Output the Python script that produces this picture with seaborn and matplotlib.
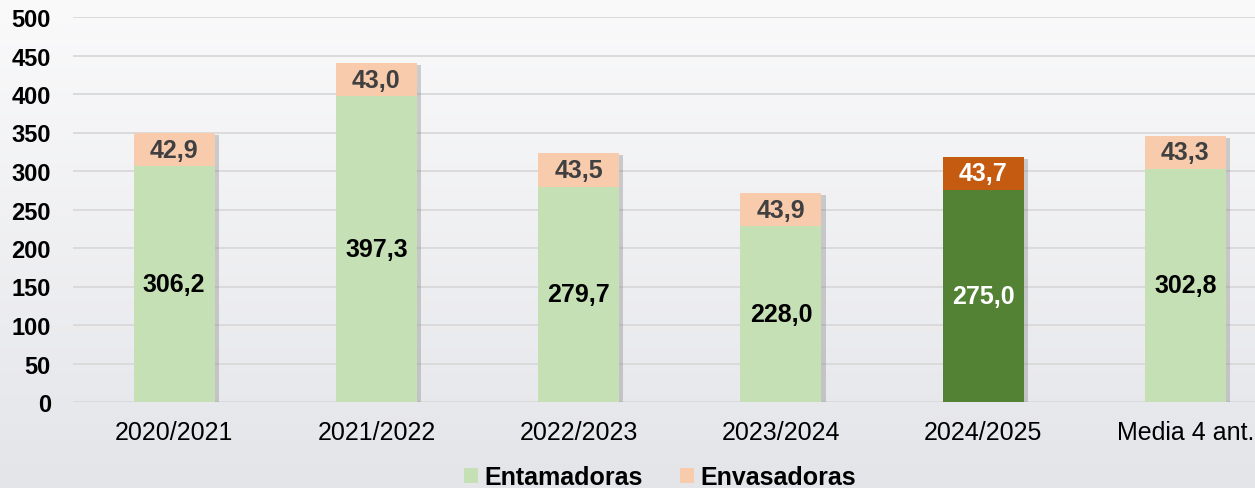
import numpy as np
import pandas as pd
import matplotlib
matplotlib.use('Agg')
import matplotlib.pyplot as plt
import matplotlib.patheffects as pe
from matplotlib.patches import Patch
import seaborn as sns

# datos de la campaña (miles de t)
campanas = ['2020/2021', '2021/2022', '2022/2023', '2023/2024', '2024/2025', 'Media 4 ant.']
entamadoras = [306.2, 397.3, 279.7, 228.0, 275.0, 302.8]
envasadoras = [42.9, 43.0, 43.5, 43.9, 43.7, 43.3]
etiquetas_ent = ['306,2', '397,3', '279,7', '228,0', '275,0', '302,8']
etiquetas_env = ['42,9', '43,0', '43,5', '43,9', '43,7', '43,3']
y_ticks = [0, 50, 100, 150, 200, 250, 300, 350, 400, 450, 500]

verde_claro = '#c5e0b4'
naranja_claro = '#f8cbad'
verde_osc = '#548235'
naranja_osc = '#c55a11'

df = pd.DataFrame({'Campana': campanas, 'Entamadoras': entamadoras, 'Envasadoras': envasadoras})
df['Total'] = df['Entamadoras'] + df['Envasadoras']

sns.set_theme(style='white')
plt.rcParams['font.family'] = ['Liberation Sans', 'DejaVu Sans']
plt.rcParams['text.color'] = 'black'

fig = plt.figure(figsize=(12.55, 4.89), dpi=100)

# fondo degradado
bg = fig.add_axes([0, 0, 1, 1], zorder=-10)
grad = np.linspace(0, 1, 256).reshape(-1, 1)
top = np.array([250, 250, 251]) / 255
bot = np.array([228, 229, 233]) / 255
img = top[None, None, :] * (1 - grad[:, :, None]) + bot[None, None, :] * grad[:, :, None]
bg.imshow(img, aspect='auto', extent=[0, 1, 0, 1])
bg.axis('off')

ax = fig.add_axes([73 / 1255, 86 / 489, 1182 / 1255, 385 / 489])
ax.set_facecolor('none')

pal_top = [naranja_claro] * 4 + [naranja_osc, naranja_claro]
pal_bot = [verde_claro] * 4 + [verde_osc, verde_claro]

shadow = [pe.SimplePatchShadow(offset=(3, -1.5), shadow_rgbFace='#7f7f7f', alpha=0.35), pe.Normal()]

sns.barplot(data=df, x='Campana', y='Total', hue='Campana', palette=pal_top, saturation=1,
            legend=False, width=0.4, ax=ax, linewidth=0, zorder=3)
for p in ax.patches:
    p.set_path_effects(shadow)
sns.barplot(data=df, x='Campana', y='Entamadoras', hue='Campana', palette=pal_bot, saturation=1,
            legend=False, width=0.4, ax=ax, linewidth=0, zorder=4)

for i in range(len(campanas)):
    dark = i == 4
    ax.text(i, entamadoras[i] / 2, etiquetas_ent[i], ha='center', va='center',
            fontsize=18, fontweight='bold', color='white' if dark else 'black', zorder=6)
    ax.text(i, entamadoras[i] + envasadoras[i] / 2, etiquetas_env[i], ha='center', va='center',
            fontsize=18, fontweight='bold', color='white' if dark else '#404040', zorder=6)

ax.set_ylim(0, 500)
ax.set_xlim(-0.5, 5.344)
ax.set_yticks(y_ticks)
ax.yaxis.grid(True, color='#d9d9d9', linewidth=1.3, zorder=0)
ax.set_axisbelow(True)
for s in ax.spines.values():
    s.set_visible(False)
ax.set_xlabel('')
ax.set_ylabel('')
ax.tick_params(axis='y', length=0, pad=16, labelsize=17, labelcolor='black')
ax.tick_params(axis='x', length=0, pad=13, labelsize=18, labelcolor='black')
for t in ax.get_yticklabels():
    t.set_fontweight('bold')

handles = [Patch(facecolor=verde_claro, edgecolor='none', label='Entamadoras'),
           Patch(facecolor=naranja_claro, edgecolor='none', label='Envasadoras')]
leg = fig.legend(handles=handles, loc='center', bbox_to_anchor=(0.526, 0.022), ncol=2,
                 frameon=False, prop={'size': 18, 'weight': 'bold'},
                 handlelength=0.55, handleheight=0.55, handletextpad=0.25, columnspacing=1.5)
for t in leg.get_texts():
    t.set_color('black')

fig.savefig('out.png', dpi=100)
